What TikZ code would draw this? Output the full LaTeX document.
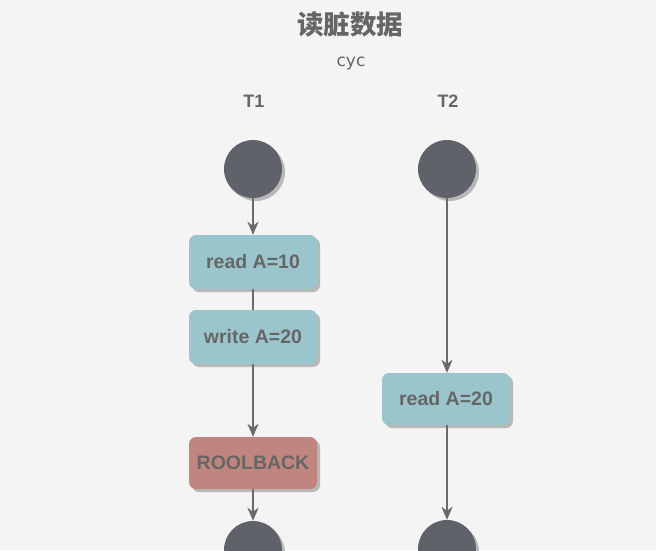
\documentclass[tikz,border=0pt]{standalone}
\usepackage{fontspec}
\setmainfont{Liberation Sans}
\newfontfamily\cjk{Noto Sans CJK SC}
\newfontfamily\subfont{DejaVu Sans}
\usetikzlibrary{arrows.meta,shadows}
\definecolor{bg}{HTML}{F4F4F4}
\definecolor{boxblue}{HTML}{9AC5CC}
\definecolor{boxred}{HTML}{C0857F}
\definecolor{dot}{HTML}{5F6269}
\definecolor{txt}{HTML}{666666}
\definecolor{edge}{HTML}{6A6A6A}
\newcommand{\lowtext}[1]{\raisebox{-2pt}{#1}}
\tikzset{
  shad/.style={drop shadow={shadow xshift=3pt,shadow yshift=-3pt,fill=black!28,opacity=1}},
  statebox/.style={rectangle,rounded corners=7pt,minimum width=128pt,minimum height=54pt,
     inner sep=0pt,text=txt,font=\bfseries\fontsize{19.5}{22}\selectfont,shad},
  dotnode/.style={circle,fill=dot,minimum size=58pt,inner sep=0pt,shad},
  lbl/.style={text=txt,font=\bfseries\fontsize{18}{21}\selectfont},
  conn/.style={draw=edge,line width=2.2pt,-{Stealth[length=13pt,width=11pt,inset=4pt]}},
  plain/.style={draw=edge,line width=2.2pt}
}
\begin{document}
\begin{tikzpicture}[x=1pt,y=-1pt]
\fill[bg] (0,0) rectangle (656,550);
\useasboundingbox (0,0) rectangle (656,550);
\clip (0,0) rectangle (656,550);
\node[text=txt,font=\cjk\bfseries\fontsize{26.5}{30}\selectfont] (title) at (350,24) {读脏数据};
\node[text=txt,font=\subfont\fontsize{17}{20}\selectfont] (sub) at (351,64) {cyc};
\node[lbl] (t1) at (254,101) {T1};
\node[lbl] (t2) at (448,101) {T2};
\node[dotnode] (c1s) at (253,169) {};
\node[dotnode] (c2s) at (447,169) {};
\node[statebox,fill=boxblue] (r1) at (253,262) {\lowtext{read A=10}};
\node[statebox,fill=boxblue] (w1) at (253,337) {\lowtext{write A=20}};
\node[statebox,fill=boxred,minimum height=52pt] (rb) at (253,463) {\lowtext{ROOLBACK}};
\node[statebox,fill=boxblue,minimum height=52pt] (r2) at (446,399) {\lowtext{read A=20}};
\node[dotnode] (c1e) at (253,550) {};
\node[dotnode] (c2e) at (447,549) {};
\draw[conn] (c1s) -- (r1);
\draw[plain] (r1) -- (w1);
\draw[conn] (w1) -- (rb);
\draw[conn] (rb) -- (c1e);
\draw[conn] (c2s.south) -- (r2.north -| c2s.south);
\draw[conn] (r2.south -| c2e.north) -- (c2e.north);
\end{tikzpicture}
\end{document}
